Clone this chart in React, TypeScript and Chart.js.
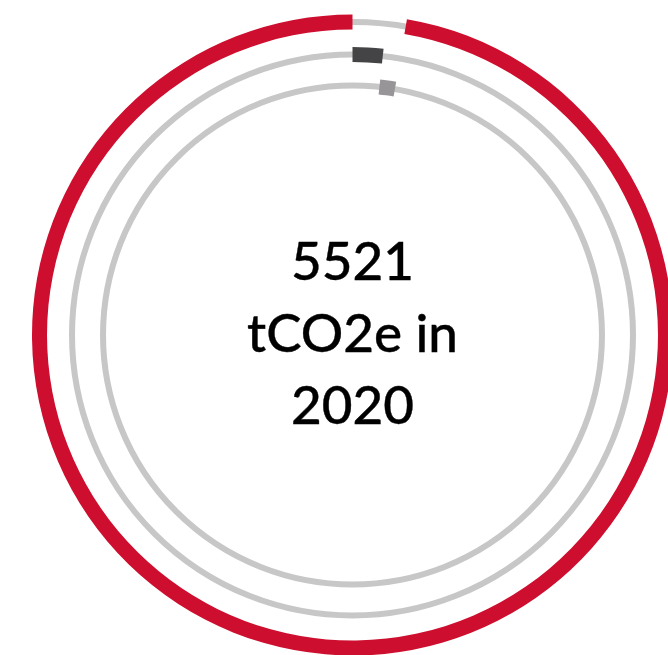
import React, { useEffect, useRef } from "react";
import { Chart, registerables } from "chart.js";

Chart.register(...registerables);

// Emissions by scope, tCO2e (2020)
const scopeLabels = ["Scope 1", "Scope 2", "Scope 3"];
const scopeValues = [95, 55, 5371];
const scopeColors = ["#444446", "#979597", "#cd0e2e"];
// Ring order from outside in (indices into the scope arrays)
const ringOrder = [2, 0, 1];
const centerLines = ["5521", "tCO2e in", "2020"];

const TRACK_COLOR = "#c7c7c7";
const CANVAS_W = 705;
const CANVAS_H = 670;

const total = scopeValues.reduce((a, b) => a + b, 0);

function ringData(scopeIndex: number) {
  const before = scopeValues.slice(0, scopeIndex).reduce((a, b) => a + b, 0);
  const value = scopeValues[scopeIndex];
  return [before, value, total - before - value];
}

// Thin grey circle behind each ring's coloured arc
const trackPlugin = {
  id: "ringTracks",
  beforeDatasetsDraw(chart: any) {
    const ctx = chart.ctx;
    chart.data.datasets.forEach((ds: any, i: number) => {
      if (!ds.isRing) return;
      const arc: any = chart.getDatasetMeta(i).data[1];
      if (!arc) return;
      const r = (arc.innerRadius + arc.outerRadius) / 2;
      ctx.save();
      ctx.beginPath();
      ctx.arc(arc.x, arc.y, r, 0, Math.PI * 2);
      ctx.lineWidth = 6;
      ctx.strokeStyle = TRACK_COLOR;
      ctx.stroke();
      ctx.restore();
    });
  },
};

export default function App() {
  const canvasRef = useRef<HTMLCanvasElement | null>(null);

  useEffect(() => {
    if (!canvasRef.current) return;
    const ringWeights = [15, 15, 15];
    const gapWeights = [17.5, 16];
    const datasets: any[] = [];
    ringOrder.forEach((s, k) => {
      datasets.push({
        label: scopeLabels[s],
        isRing: true,
        data: ringData(s),
        backgroundColor: ["rgba(0,0,0,0)", scopeColors[s], "rgba(0,0,0,0)"],
        borderWidth: 0,
        weight: ringWeights[k],
      });
      if (k < gapWeights.length) {
        datasets.push({
          label: "",
          isRing: false,
          data: [1],
          backgroundColor: ["rgba(0,0,0,0)"],
          borderWidth: 0,
          weight: gapWeights[k],
        });
      }
    });

    const chart = new Chart(canvasRef.current, {
      type: "doughnut",
      data: { labels: ["", "", ""], datasets },
      options: {
        responsive: false,
        animation: false,
        radius: 320.5,
        cutout: "75.5%",
        layout: { padding: 0 },
        events: [],
        plugins: {
          legend: { display: false },
          tooltip: { enabled: false },
        },
      } as any,
      plugins: [trackPlugin],
    });
    return () => chart.destroy();
  }, []);

  return (
    <div
      style={{
        position: "fixed",
        left: 0,
        top: 0,
        width: "100vw",
        height: "100vh",
        overflow: "hidden",
        background: "#ffffff",
      }}
    >
      <canvas
        ref={canvasRef}
        width={CANVAS_W}
        height={CANVAS_H}
        style={{ position: "absolute", left: 0, top: 0, display: "block" }}
      />
      <div
        style={{
          position: "absolute",
          left: CANVAS_W / 2,
          top: 332,
          transform: "translate(-50%, -50%)",
          textAlign: "center",
          fontFamily: "Lato, 'Open Sans', sans-serif",
          fontWeight: 500,
          fontSize: 53,
          lineHeight: "72px",
          color: "#000000",
          whiteSpace: "nowrap",
          WebkitTextStroke: "0.4px #000000",
        }}
      >
        {centerLines.map((t, i) => (
          <div key={i}>{t}</div>
        ))}
      </div>
    </div>
  );
}
